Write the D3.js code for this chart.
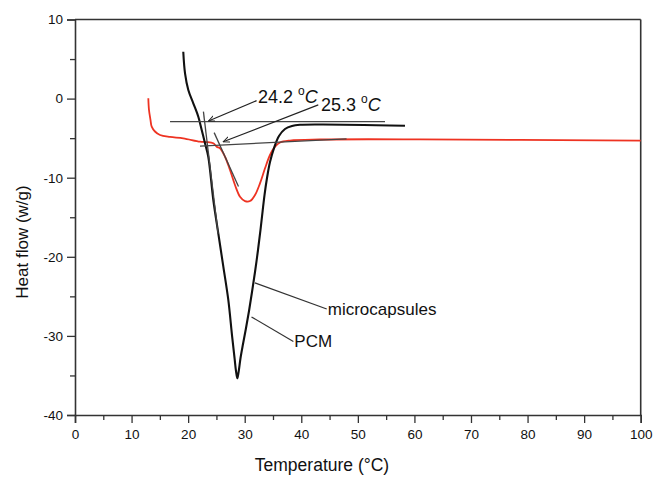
<!DOCTYPE html>
<html><head><meta charset="utf-8">
<script src="https://cdn.jsdelivr.net/npm/d3@7"></script>
<style>
html,body{margin:0;padding:0;background:#fff;}
svg text{font-family:"Liberation Sans",Arial,sans-serif;fill:#111;}
</style></head>
<body>
<svg id="chart" width="653" height="478"></svg>
<script>
// ---- data (Temperature °C, Heat flow W/g) ----
const blackX = [19.14,19.45,20.03,20.91,21.80,22.40,22.98,23.56,24.45,25.33,26.22,27.10,27.75,28.20,28.46,28.69,28.92,29.26,29.70,30.23,30.76,31.29,31.82,32.35,32.79,33.15,33.50,33.94,34.47,35.18,36.06,37.12,38.36,39.77,43.84,58.33];
const blackY = [5.93,3.20,1.09,-0.59,-2.29,-3.97,-5.65,-7.35,-12.82,-17.03,-21.25,-25.46,-29.89,-32.79,-34.44,-35.36,-34.56,-32.79,-31.02,-29.00,-26.85,-24.45,-21.92,-19.14,-16.61,-14.34,-12.19,-10.04,-8.02,-6.25,-4.73,-3.84,-3.46,-3.31,-3.27,-3.43];
const redX = [12.96,13.08,13.35,13.56,14.14,15.03,16.79,19.14,22.10,23.28,24.45,25.05,25.63,26.52,27.40,28.28,29.17,30.05,30.94,31.82,32.70,33.59,34.47,35.36,36.24,38.0,43.3,61.0,100];
const redY = [0.04,-1.44,-2.71,-3.55,-4.16,-4.60,-4.85,-5.02,-5.45,-5.49,-5.65,-6.08,-6.28,-7.35,-9.03,-10.92,-12.40,-12.95,-12.95,-12.19,-10.71,-8.81,-7.13,-6.08,-5.55,-5.30,-5.17,-5.15,-5.32];
// tangent / baseline construction lines [x1,y1,x2,y2]
const tangentLines = [
  [16.8,-2.92,54.8,-2.92],
  [22.1,-6.0,48.0,-5.1],
  [22.7,-1.65,25.3,-17.1],
  [24.6,-4.3,28.9,-11.1]
];
// arrows [x1,y1,x2,y2] (head at x2,y2)
const arrows = [
  [32.1,-0.26,23.6,-2.83],
  [43.0,-0.8,26.2,-5.45]
];
// leader lines for curve labels
const leaders = [
  [31.8,-23.3,44.5,-26.6],
  [31.2,-27.6,38.6,-30.7]
];
const curveLabels = ["microcapsules","PCM"];
const onsetLabels = ["24.2","25.3"];
const xTicks = [0,10,20,30,40,50,60,70,80,90,100];
const yTicks = [-40,-30,-20,-10,0,10];
const xTitle = "Temperature (°C)";
const yTitle = "Heat flow (w/g)";

// ---- layout ----
const svg = d3.select("#chart");
const L = 75, R = 640.7, T = 19.5, B = 415;
const x = d3.scaleLinear().domain([0,100]).range([L,R]);
const y = d3.scaleLinear().domain([-40,10]).range([B,T]);
const axisColor = "#333";
const fmt = d => String(d);

// frame (top + right)
svg.append("line").attr("x1",L).attr("x2",R).attr("y1",T).attr("y2",T).attr("stroke",axisColor).attr("stroke-width",1.6);
svg.append("line").attr("x1",R).attr("x2",R).attr("y1",T).attr("y2",B).attr("stroke",axisColor).attr("stroke-width",1.6);

// x axis
const xAxis = d3.axisBottom(x).tickValues(xTicks).tickSize(8).tickPadding(6).tickFormat(fmt);
const gx = svg.append("g").attr("transform",`translate(0,${B})`).call(xAxis);
gx.selectAll(".tick line").attr("stroke",axisColor).attr("stroke-width",1.3);
gx.select(".domain").attr("stroke",axisColor).attr("stroke-width",1.6);
gx.selectAll("text").attr("font-size",13.5).style("font-family","Liberation Sans, Arial, sans-serif").attr("fill","#111");
const gxm = svg.append("g").attr("transform",`translate(0,${B})`)
  .call(d3.axisBottom(x).tickValues(d3.range(5,100,10)).tickSize(5).tickFormat(""));
gxm.select(".domain").remove();
gxm.selectAll(".tick line").attr("stroke",axisColor).attr("stroke-width",1.3);

// y axis
const yAxis = d3.axisLeft(y).tickValues(yTicks).tickSize(8).tickPadding(4).tickFormat(fmt);
const gy = svg.append("g").attr("transform",`translate(${L},0)`).call(yAxis);
gy.selectAll(".tick line").attr("stroke",axisColor).attr("stroke-width",1.3);
gy.select(".domain").attr("stroke",axisColor).attr("stroke-width",1.6);
gy.selectAll("text").attr("font-size",13.5).style("font-family","Liberation Sans, Arial, sans-serif").attr("fill","#111");
const gym = svg.append("g").attr("transform",`translate(${L},0)`)
  .call(d3.axisLeft(y).tickValues(d3.range(-35,10,10)).tickSize(5).tickFormat(""));
gym.select(".domain").remove();
gym.selectAll(".tick line").attr("stroke",axisColor).attr("stroke-width",1.3);

// titles
svg.append("text").attr("x",322).attr("y",471).attr("text-anchor","middle").attr("font-size",17.5).text(xTitle);
svg.append("text").attr("transform","translate(28,242) rotate(-90)").attr("text-anchor","middle").attr("font-size",17).text(yTitle);

// curves
const line = d3.line().x(d=>x(d[0])).y(d=>y(d[1])).curve(d3.curveCatmullRom.alpha(0.5));
svg.append("path").datum(redX.map((v,i)=>[v,redY[i]])).attr("d",line)
  .attr("fill","none").attr("stroke","#ee3322").attr("stroke-width",1.8);
svg.append("path").datum(blackX.map((v,i)=>[v,blackY[i]])).attr("d",line)
  .attr("fill","none").attr("stroke","#111").attr("stroke-width",2.1);

// construction lines
tangentLines.forEach(t=>{
  svg.append("line").attr("x1",x(t[0])).attr("y1",y(t[1])).attr("x2",x(t[2])).attr("y2",y(t[3]))
    .attr("stroke","#444").attr("stroke-width",1.3);
});

// arrows
svg.append("defs").append("marker").attr("id","ah").attr("viewBox","0 0 10 10").attr("refX",9).attr("refY",5)
  .attr("markerWidth",7).attr("markerHeight",7).attr("orient","auto").attr("markerUnits","userSpaceOnUse")
  .append("path").attr("d","M0,1 L9,5 L0,9").attr("fill","none").attr("stroke","#222").attr("stroke-width",1.4);
arrows.forEach(a=>{
  svg.append("line").attr("x1",x(a[0])).attr("y1",y(a[1])).attr("x2",x(a[2])).attr("y2",y(a[3]))
    .attr("stroke","#222").attr("stroke-width",1.2).attr("marker-end","url(#ah)");
});

// onset labels
const onsetPos = [[258,103],[321,111]];
onsetLabels.forEach((s,i)=>{
  const t = svg.append("text").attr("x",onsetPos[i][0]).attr("y",onsetPos[i][1]).attr("font-size",18);
  t.append("tspan").text(s+" ");
  t.append("tspan").attr("font-size",12).attr("dy",-8).text("o");
  t.append("tspan").attr("dy",8).attr("font-style","italic").text("C");
});

// leaders + curve labels
leaders.forEach((l,i)=>{
  svg.append("line").attr("x1",x(l[0])).attr("y1",y(l[1])).attr("x2",x(l[2])).attr("y2",y(l[3]))
    .attr("stroke","#333").attr("stroke-width",1.2);
  svg.append("text").attr("x",x(l[2])+1).attr("y",y(l[3])+6).attr("font-size",17).text(curveLabels[i]);
});
</script>
</body></html>
